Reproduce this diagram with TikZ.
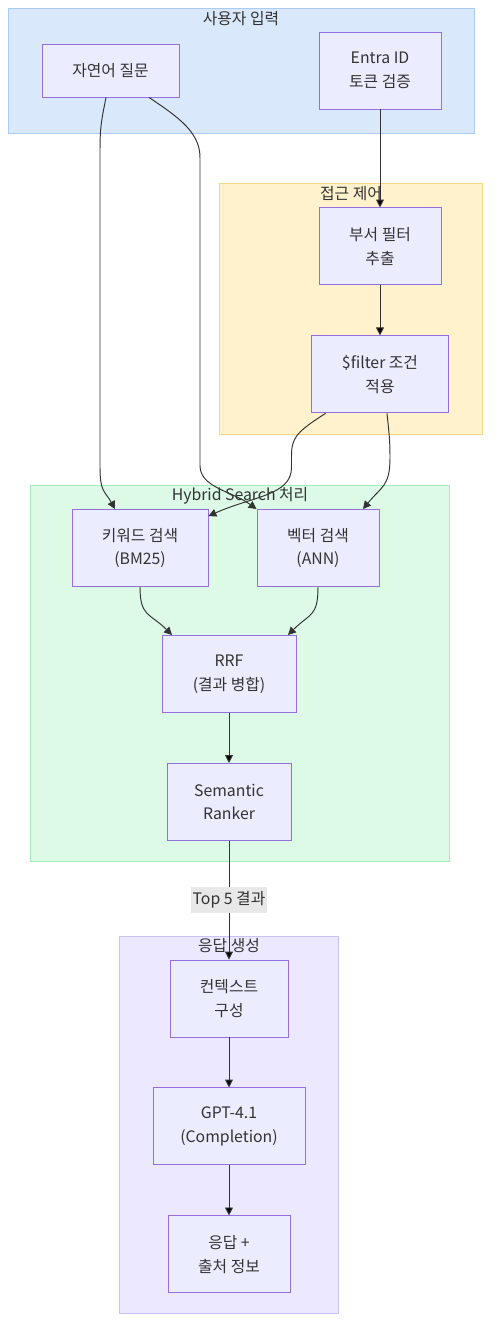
\documentclass[tikz,border=0pt]{standalone}
\usepackage{fontspec}
\setmainfont{Noto Sans CJK KR}
\usetikzlibrary{arrows.meta,positioning}

\definecolor{ink}{HTML}{333333}
\definecolor{edgecol}{HTML}{333333}
\definecolor{nodefill}{HTML}{ECECFF}
\definecolor{nodeline}{HTML}{9370DB}
\definecolor{inputfill}{HTML}{DAE8FC}
\definecolor{inputline}{HTML}{A9CBF6}
\definecolor{accessfill}{HTML}{FFF2CC}
\definecolor{accessline}{HTML}{F5D77E}
\definecolor{hybridfill}{HTML}{DCFAE6}
\definecolor{hybridline}{HTML}{A6EBBF}
\definecolor{answerfill}{HTML}{ECE8FF}
\definecolor{answerline}{HTML}{CDBFF8}
\definecolor{labelbg}{HTML}{E8E8E8}

\newcommand{\boxfont}{\fontsize{9}{13.4}\selectfont}

\begin{document}
\begin{tikzpicture}
  [x=0.02cm,y=-0.02cm,->,>={Triangle[length=4.5pt,width=4.5pt]},
  node distance=1cm,line width=0.55pt,
	main node/.style={rectangle,fill=nodefill,draw=nodeline,text=ink,
  font=\boxfont,align=center,inner sep=0pt,minimum height=1.54cm},
	group box/.style={rectangle,inner sep=0pt},
	group title/.style={text=ink,font=\boxfont,inner sep=1pt},
	flow/.style={draw=edgecol},
	edge label/.style={fill=labelbg,text=ink,font=\boxfont,
  inner xsep=1pt,inner ysep=2.5pt}]

  \useasboundingbox (0,0) rectangle (499,1342);

  % subgraphs
  \node[group box,fill=inputfill,draw=inputline,
    minimum width=9.34cm,minimum height=2.5cm] (gInput) at (241.5,70.5) {};
  \node[group box,fill=accessfill,draw=accessline,
    minimum width=5.28cm,minimum height=5.04cm] (gAccess) at (351,309) {};
  \node[group box,fill=hybridfill,draw=hybridline,
    minimum width=8.4cm,minimum height=7.54cm] (gHybrid) at (240,673.5) {};
  \node[group box,fill=answerfill,draw=answerline,
    minimum width=4.4cm,minimum height=7.56cm] (gAnswer) at (229,1125) {};

  \node[group title] (tInput) at (241,19) {사용자 입력};
  \node[group title] (tAccess) at (351,194) {접근 제어};
  \node[group title] (tHybrid) at (240,496) {Hybrid Search 처리};
  \node[group title] (tAnswer) at (229,946) {응답 생성};

  \node[main node,minimum width=2.74cm,minimum height=1.06cm] (q) at (110.5,70.5) {자연어 질문};
  \node[main node,minimum width=2.44cm] (entra) at (380,70.5) {Entra ID\\토큰 검증};
  \node[main node,minimum width=2.44cm] (dept) [below=1.96cm of entra] {부서 필터\\추출};
  \node[main node,minimum width=2.74cm] (filt) [below=of dept] {\$filter 조건\\적용};

  \node[main node,minimum width=2.72cm] (kw) at (140,548) {키워드 검색\\(BM25)};
  \node[main node,minimum width=2.44cm] (vec) at (318,548) {벡터 검색\\(ANN)};
  \node[main node,minimum width=2.68cm] (rrf) at (229,674) {RRF\\(결과 병합)};
  \node[main node,minimum width=2.48cm] (sem) [below=of rrf] {Semantic\\Ranker};

  \node[main node,minimum width=2.36cm] (ctx) at (229,998.5) {컨텍스트\\구성};
  \node[main node,minimum width=3.04cm] (gpt) [below=of ctx] {GPT-4.1\\(Completion)};
  \node[main node,minimum width=2.44cm] (ans) [below=of gpt] {응답 +\\출처 정보};

  \path[flow]
    (entra) edge (dept)
    (dept) edge (filt)
    (rrf) edge (sem)
    (sem) edge node[edge label] {Top 5 결과} (ctx)
    (ctx) edge (gpt)
    (gpt) edge (ans);

  \draw[flow] ([xshift=-0.09cm]q.south) .. controls +(-5,25) and +(0,-25) .. ++(-6,55)
    -- ++(0,315) .. controls +(0,25) and +(-10,-18) .. ([xshift=-0.5cm]kw.north);
  \draw[flow] ([xshift=0.77cm]q.south) .. controls +(30,20) and +(0,-25) .. ++(51,60)
    -- ++(0,308) .. controls +(0,22) and +(-25,-18) .. (vec.north west);
  \draw[flow] ([xshift=-1.09cm]filt.south) .. controls +(-28,18) and +(0,-18) .. ++(-34,42)
    -- ++(0,12) .. controls +(0,28) and +(45,-20) .. ([yshift=-0.14cm]kw.north east);
  \draw[flow] ([xshift=0.14cm]filt.south) .. controls +(2,20) and +(0,-20) .. ++(3,45)
    .. controls +(0,28) and +(18,-22) .. ([xshift=0.9cm]vec.north);
  \draw[flow] (kw.south) .. controls +(0,30) and +(-22,-22) .. ([xshift=-1.14cm]rrf.north);
  \draw[flow] (vec.south) .. controls +(0,30) and +(22,-22) .. ([xshift=1.18cm]rrf.north);
\end{tikzpicture}
\end{document}
